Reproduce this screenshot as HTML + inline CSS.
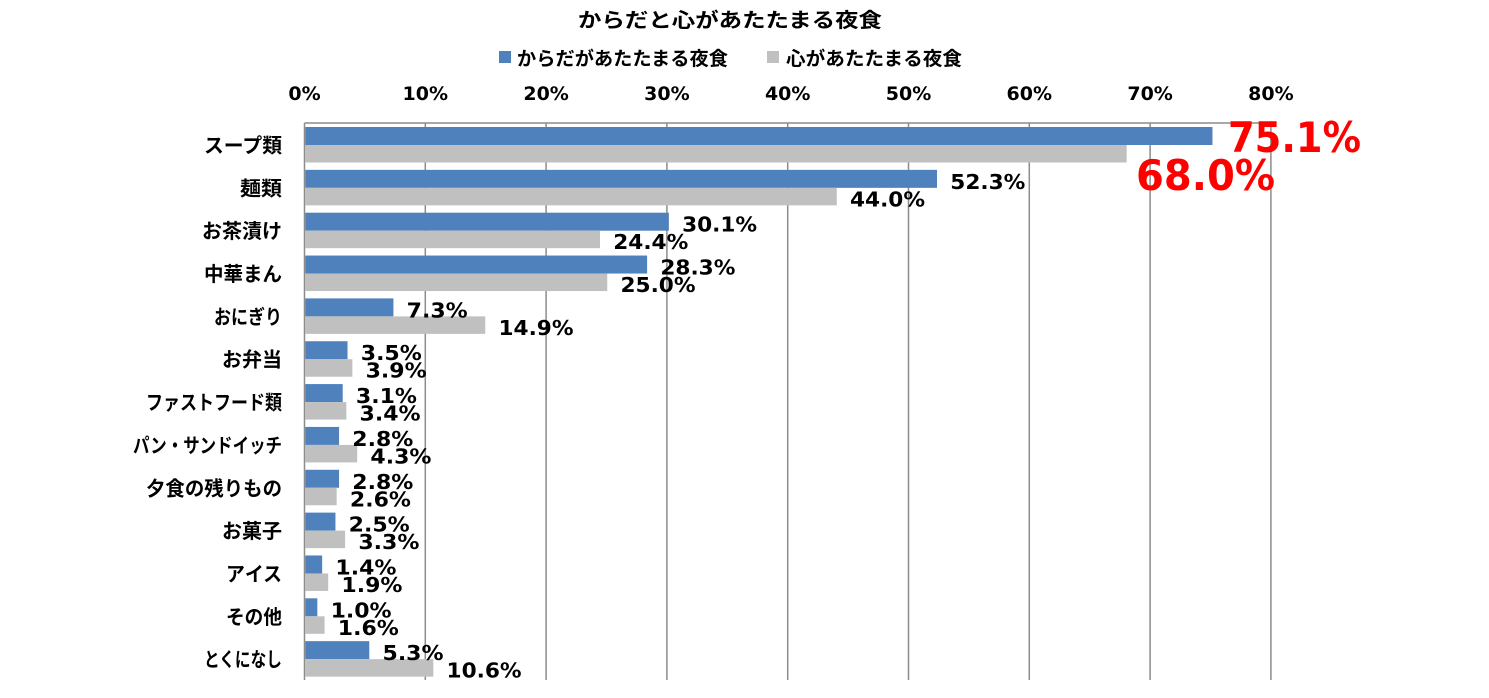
<!DOCTYPE html>
<html><head><meta charset="utf-8"><style>
html,body{margin:0;padding:0;background:#fff;}
svg{display:block;}
.jp{font-family:"Liberation Sans","Noto Sans CJK JP",sans-serif;font-weight:bold;fill:#000;}
.num{font-family:"DejaVu Sans","Liberation Sans",sans-serif;font-weight:bold;fill:#000;}
</style></head><body>
<svg id="c" width="1489" height="698" xmlns="http://www.w3.org/2000/svg">
<text class="jp" x="730" y="27" font-size="20" text-anchor="middle" textLength="304" lengthAdjust="spacingAndGlyphs">からだと心があたたまる夜食</text>
<rect x="499" y="51" width="12" height="12" fill="#4f81bd"/>
<text class="jp" x="517" y="65" font-size="19" textLength="211" lengthAdjust="spacingAndGlyphs">からだがあたたまる夜食</text>
<rect x="767" y="51" width="12" height="12" fill="#c0c0c0"/>
<text class="jp" x="786" y="65" font-size="19" textLength="176" lengthAdjust="spacingAndGlyphs">心があたたまる夜食</text>
<g id="g"></g>
</svg>
<script>
var svg=document.getElementById('g');var NS='http://www.w3.org/2000/svg';
function el(t,a,txt){var e=document.createElementNS(NS,t);for(var k in a)e.setAttribute(k,a[k]);if(txt!=null)e.textContent=txt;svg.appendChild(e);return e;}
var X0=304.5,S=12.08,T=123,B=680,H=(B-T)/13;
for(var i=0;i<=8;i++){var x=X0+i*10*S;
 el('line',{x1:x,y1:T,x2:x,y2:B,stroke:'#8c8c8c','stroke-width':1.5});
 el('text',{'class':'num',x:x,y:100,'font-size':19,'text-anchor':'middle'},i*10+'%');}
el('line',{x1:X0,y1:T,x2:X0+80*S,y2:T,stroke:'#8c8c8c','stroke-width':1.5});
var cats=['スープ類','麺類','お茶漬け','中華まん','おにぎり','お弁当','ファストフード類','パン・サンドイッチ','夕食の残りもの','お菓子','アイス','その他','とくになし'];
var cw=[78,42,80,78,68,60,136,149,136,60,56,56,78];
var b=[75.1,52.3,30.1,28.3,7.3,3.5,3.1,2.8,2.8,2.5,1.4,1.0,5.3];
var g=[68.0,44.0,24.4,25.0,14.9,3.9,3.4,4.3,2.6,3.3,1.9,1.6,10.6];
function lab(v,x,y){var s=v.toFixed(1)+'%';el('text',{'class':'num',x:x,y:y,'font-size':20,textLength:s.length==5?75:61,lengthAdjust:'spacingAndGlyphs'},s);}
for(var i=0;i<13;i++){var t=T+i*H;
 el('rect',{x:X0+0.75,y:t+4,width:b[i]*S,height:18,fill:'#4f81bd'});
 el('rect',{x:X0+0.75,y:t+22,width:g[i]*S,height:17.5,fill:'#c0c0c0'});
 el('text',{'class':'jp',x:282,y:t+29.5,'font-size':20,'text-anchor':'end',textLength:cw[i],lengthAdjust:'spacingAndGlyphs'},cats[i]);
 if(i>0){lab(b[i],X0+b[i]*S+14,t+23);lab(g[i],X0+g[i]*S+14,t+40.5);}
}
el('text',{'class':'num',x:1228,y:152,'font-size':42,style:'fill:#ff0000',textLength:133,lengthAdjust:'spacingAndGlyphs'},'75.1%');
el('text',{'class':'num',x:1136,y:190,'font-size':42,style:'fill:#ff0000',textLength:139,lengthAdjust:'spacingAndGlyphs'},'68.0%');
</script>
</body></html>
